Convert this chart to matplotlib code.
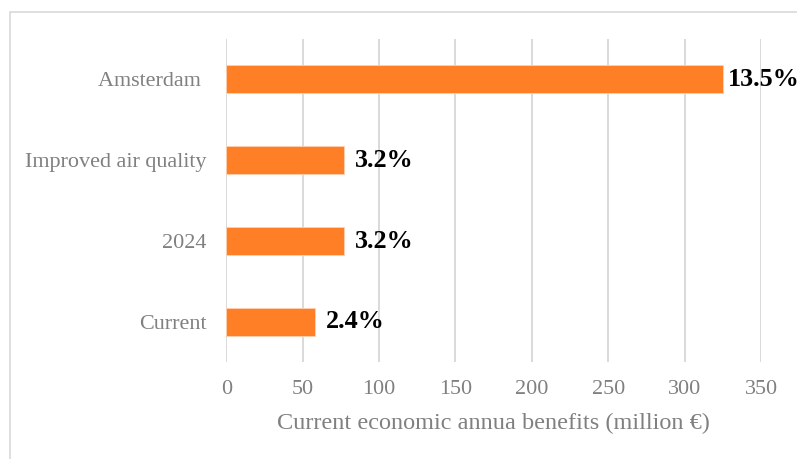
import matplotlib
matplotlib.use("Agg")
import matplotlib.pyplot as plt
from matplotlib.patches import Rectangle

categories = ["Current", "2024", "Improved air quality", "Amsterdam "]
benefits = [58.0, 76.8, 76.8, 325.3]
shares = ["2.4%", "3.2%", "3.2%", "13.5%"]
xticks = [0, 50, 100, 150, 200, 250, 300, 350]

W, H = 797, 459
fig = plt.figure(figsize=(W / 100, H / 100), dpi=100)
fig.patch.set_facecolor("white")

# outer chart frame (runs off the right and bottom edges)
fig.patches.append(Rectangle((10 / W, -0.1), 1.2, (H - 11.7) / H + 0.1,
                             transform=fig.transFigure, fill=False,
                             edgecolor="#d9d9d9", linewidth=1.2))

ax = fig.add_axes([226.3 / W, 1 - 362.3 / H, (761 - 226.3) / W, (362.3 - 39) / H])
ypos = list(range(len(categories)))
ax.barh(ypos, benefits, height=0.347, color="#FF7F27",
        edgecolor="#FFD0B0", linewidth=0.6, zorder=3)

ax.set_xlim(0, 350)
ax.set_ylim(-0.5, len(categories) - 0.5)
ax.set_xticks(xticks)
ax.set_xticklabels([str(t) for t in xticks])
ax.set_yticks(ypos)
ax.set_yticklabels(categories)

serif = ["Liberation Serif", "DejaVu Serif"]
gray = "#808080"
for lab in ax.get_xticklabels() + ax.get_yticklabels():
    lab.set_family(serif)
    lab.set_fontsize(15.9)
    lab.set_color(gray)
ax.tick_params(axis="both", length=0)
ax.tick_params(axis="x", pad=13)
ax.tick_params(axis="y", pad=14)

ax.grid(axis="x", color="#d9d9d9", linewidth=1.4, zorder=0)
for s in ax.spines.values():
    s.set_visible(False)

ax.set_xlabel("Current economic annua benefits (million \u20ac)", family=serif,
              fontsize=17.5, color=gray, labelpad=10)

offsets = [8, 8, 8, 3.5]
for y, v, s, off in zip(ypos, benefits, shares, offsets):
    ax.annotate(s, xy=(v, y), xytext=(off, 0), textcoords="offset points",
                va="center", ha="left", fontsize=18.8, fontweight="bold",
                family=serif, color="black", annotation_clip=False)

fig.savefig("out.png", dpi=100)
